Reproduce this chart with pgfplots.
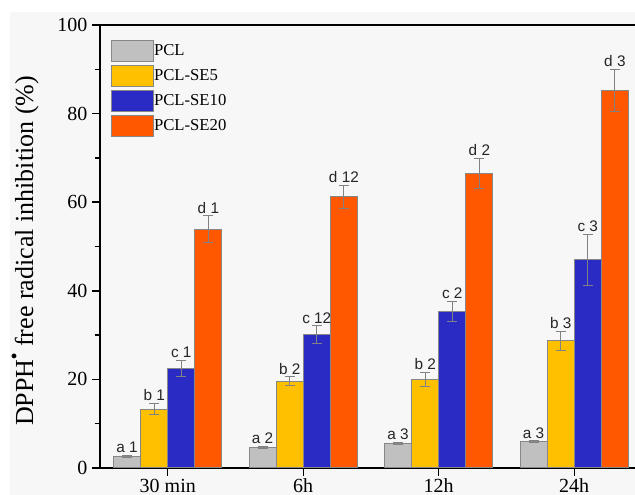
\documentclass[border=0pt]{standalone}
\usepackage{pgfplots}
\pgfplotsset{compat=1.18}
\usepackage{pgfplotstable}
\usepackage{fontspec}
\setmainfont{Liberation Serif}
\newfontfamily\labelfont{Liberation Sans}

\definecolor{barPCL}{RGB}{192,192,192}
\definecolor{barSEfive}{RGB}{255,192,0}
\definecolor{barSEten}{RGB}{42,42,196}
\definecolor{barSEtwenty}{RGB}{255,88,0}
\definecolor{barline}{RGB}{135,135,135}
\definecolor{errcol}{RGB}{130,130,130}
\definecolor{bgcol}{RGB}{247,247,247}

\newcommand{\legfont}{\fontsize{12.5}{14}\selectfont}

% x: 0 = 30 min, 1 = 6h, 2 = 12h, 3 = 24h
\pgfplotstableread[col sep=comma]{
x,y,err,lab
0,2.6,0.3,a 1
1,4.6,0.3,a 2
2,5.6,0.2,a 3
3,5.9,0.2,a 3
}\pcl
\pgfplotstableread[col sep=comma]{
x,y,err,lab
0,13.3,1.3,b 1
1,19.6,1.0,b 2
2,20.0,1.6,b 2
3,28.7,2.1,b 3
}\sefive
\pgfplotstableread[col sep=comma]{
x,y,err,lab
0,22.5,1.8,c 1
1,30.1,2.0,c 12
2,35.3,2.3,c 2
3,47.0,5.8,c 3
}\seten
\pgfplotstableread[col sep=comma]{
x,y,err,lab
0,53.9,3.0,d 1
1,61.2,2.6,d 12
2,66.5,3.4,d 2
3,85.2,4.8,d 3
}\setwenty

\begin{document}
\begin{tikzpicture}
% page background
\fill[bgcol] (-67.5pt,-20.25pt) rectangle (401.25pt,342pt);
\begin{axis}[
  width=406.5pt, height=332.25pt, scale only axis,
  xmin=-0.5, xmax=3.5, ymin=0, ymax=100,
  ybar=0pt, bar width=0.2,
  xtick={0,1,2,3}, xticklabels={30 min,6h,12h,24h},
  ytick={0,20,40,60,80,100}, minor y tick num=1,
  xtick pos=bottom, ytick pos=left,
  tick align=outside,
  major tick length=6pt, minor tick length=4pt,
  axis line style={black, line width=1.1pt},
  every tick/.style={black, line width=1.1pt},
  /pgf/number format/assume math mode=true,
  ticklabel style={font=\fontsize{15}{15}\selectfont},
  xticklabel style={yshift=1.5pt},
  ylabel={DPPH\raisebox{0.62em}{\fontsize{9}{9}\selectfont$\bullet$} free radical inhibition (\%)},
  ylabel style={font=\fontsize{19.5}{20}\selectfont, at={(axis description cs:-0.138,0.49)}, anchor=center},
  every axis plot/.append style={draw=barline, line width=0.75pt},
  error bars/y dir=both, error bars/y explicit,
  error bars/error bar style={errcol, line width=0.75pt},
  error bars/error mark options={rotate=90, errcol, mark size=3.75pt, line width=0.75pt},
  nodes near coords, point meta=explicit symbolic,
  visualization depends on={\thisrow{err} \as \myerr},
  nodes near coords style={font=\labelfont\fontsize{11.5}{11.5}\selectfont, anchor=south, inner sep=1.5pt, yshift=\myerr*3.3225pt, text=black!85},
  legend image code/.code={\draw[#1, draw=barline, line width=0.75pt] (0pt,-7.875pt) rectangle (31.5pt,7.875pt);},
  legend style={at={(axis description cs:0.02,0.966)}, anchor=north west, draw=none, fill=none,
    inner sep=0pt, row sep=2.25pt,
    nodes={inner xsep=0pt, inner ysep=0pt},
    /tikz/every even column/.append style={column sep=5pt}},
  legend cell align=left,
]
\addplot[fill=barPCL] table[x=x, y=y, y error=err, meta=lab] {\pcl};
\addlegendentry{\legfont PCL}
\addplot[fill=barSEfive] table[x=x, y=y, y error=err, meta=lab] {\sefive};
\addlegendentry{\legfont PCL-SE5}
\addplot[fill=barSEten] table[x=x, y=y, y error=err, meta=lab] {\seten};
\addlegendentry{\legfont PCL-SE10}
\addplot[fill=barSEtwenty] table[x=x, y=y, y error=err, meta=lab] {\setwenty};
\addlegendentry{\legfont PCL-SE20}
\end{axis}
\pgfresetboundingbox
\useasboundingbox (-75pt,-20.25pt) rectangle (401.25pt,351pt);
\end{tikzpicture}
\end{document}
